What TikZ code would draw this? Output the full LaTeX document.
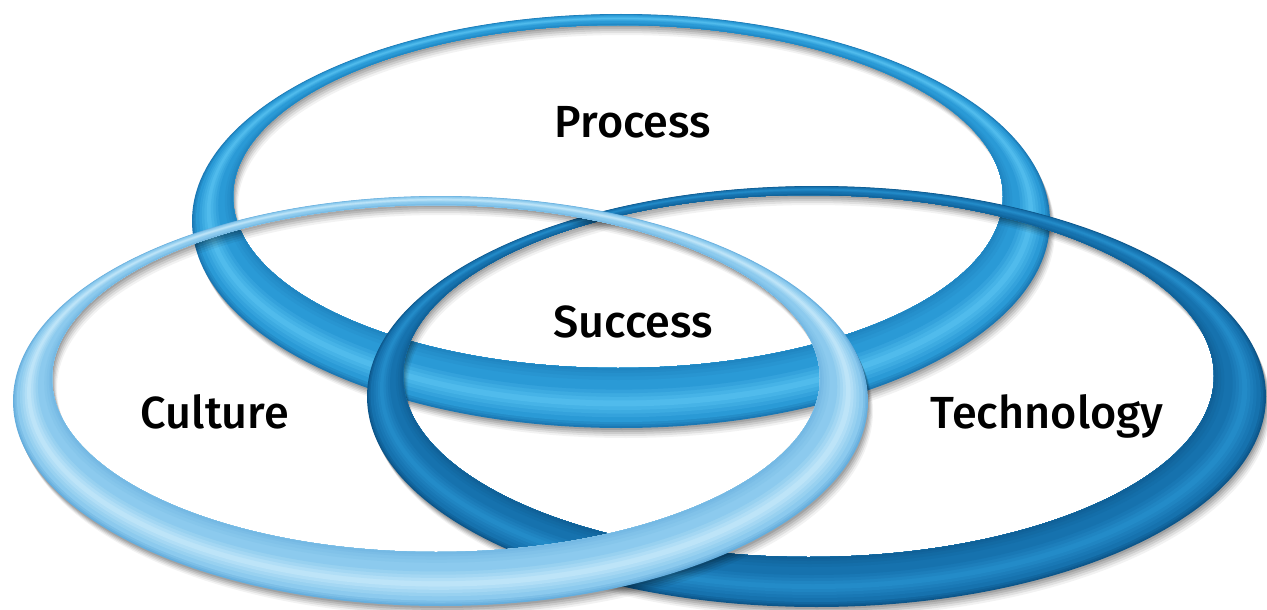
\documentclass[tikz,border=0pt]{standalone}
\usepackage{fontspec}
\newfontfamily\labfont{Fira Sans}[UprightFont={* Medium}]
\definecolor{pDK}{HTML}{1A78B4}
\definecolor{pMD}{HTML}{2A9AD6}
\definecolor{pHI}{HTML}{50BBEC}
\definecolor{tDK}{HTML}{0C568A}
\definecolor{tMD}{HTML}{1672AE}
\definecolor{tHI}{HTML}{238BC8}
\definecolor{cDK}{HTML}{66AEDD}
\definecolor{cMD}{HTML}{8CCAEE}
\definecolor{cHI}{HTML}{BDE4F8}
% #1 prefix, #2-#5 outer cx cy a b, #6-#9 inner cx cy a b
\newcommand\myring[9]{%
  \colorlet{DK}{#1DK}\colorlet{MD}{#1MD}\colorlet{HI}{#1HI}%
  \foreach \ta/\cc in {0/DK,0.03/DK!70!MD,0.06/DK!40!MD,0.10/MD,0.18/MD!75!HI,0.24/MD!50!HI,0.30/MD!25!HI,0.36/HI,0.46/HI!75!MD,0.52/HI!50!MD,0.58/HI!25!MD,0.64/MD,0.80/MD!85!DK,0.86/MD!70!DK,0.92/MD!55!DK,0.96/MD!40!DK}{%
    \pgfmathsetmacro\xa{#2+\ta*(#6-#2)}%
    \pgfmathsetmacro\ya{#3+\ta*(#7-#3)}%
    \pgfmathsetmacro\aa{#4+\ta*(#8-#4)}%
    \pgfmathsetmacro\ba{#5+\ta*(#9-#5)}%
    \fill[\cc, even odd rule] (\xa,\ya) ellipse [x radius=\aa pt, y radius=\ba pt]
      (#6,#7) ellipse [x radius=#8pt, y radius=#9pt];
  }%
}
\newcommand\myshadow[8]{%
  \foreach \dx/\dy/\op in {1/2/0.11,2/4/0.10,3/6/0.09,4/8/0.07,5/10/0.05}{%
    \fill[black, opacity=\op, even odd rule] (#1+\dx,#2+\dy) ellipse [x radius=#3pt, y radius=#4pt]
      (#5+\dx,#6+\dy) ellipse [x radius=#7pt, y radius=#8pt];
  }%
}
\tikzset{lab/.style={font=\labfont\fontsize{45}{50}\selectfont, text=black, anchor=base, inner sep=0pt}}
\begin{document}
\begin{tikzpicture}[x=1pt,y=-1pt]
\useasboundingbox (0,0) rectangle (1267,610);
\fill[white] (0,0) rectangle (1267,610);
% Process ring (bottom layer)
\myshadow{621}{221}{429}{207}{618}{196.5}{385}{171.5}
\myring{p}{621}{221}{429}{207}{618}{196.5}{385}{171.5}
% Technology ring
\myshadow{816.5}{396.5}{449.5}{210.5}{808.5}{376}{405.5}{181}
\myring{t}{816.5}{396.5}{449.5}{210.5}{808.5}{376}{405.5}{181}
% Culture ring (top layer)
\myshadow{440.5}{401}{427.5}{205}{436}{378.5}{384}{173.5}
\myring{c}{440.5}{401}{427.5}{205}{436}{378.5}{384}{173.5}
% labels
\node[lab] (process) at (633,137) {Process};
\node[lab] (success) at (633,337) {Success};
\node[lab] (culture) at (215,428) {Culture};
\node[lab] (technology) at (1047,428) {Technology};
\end{tikzpicture}
\end{document}
